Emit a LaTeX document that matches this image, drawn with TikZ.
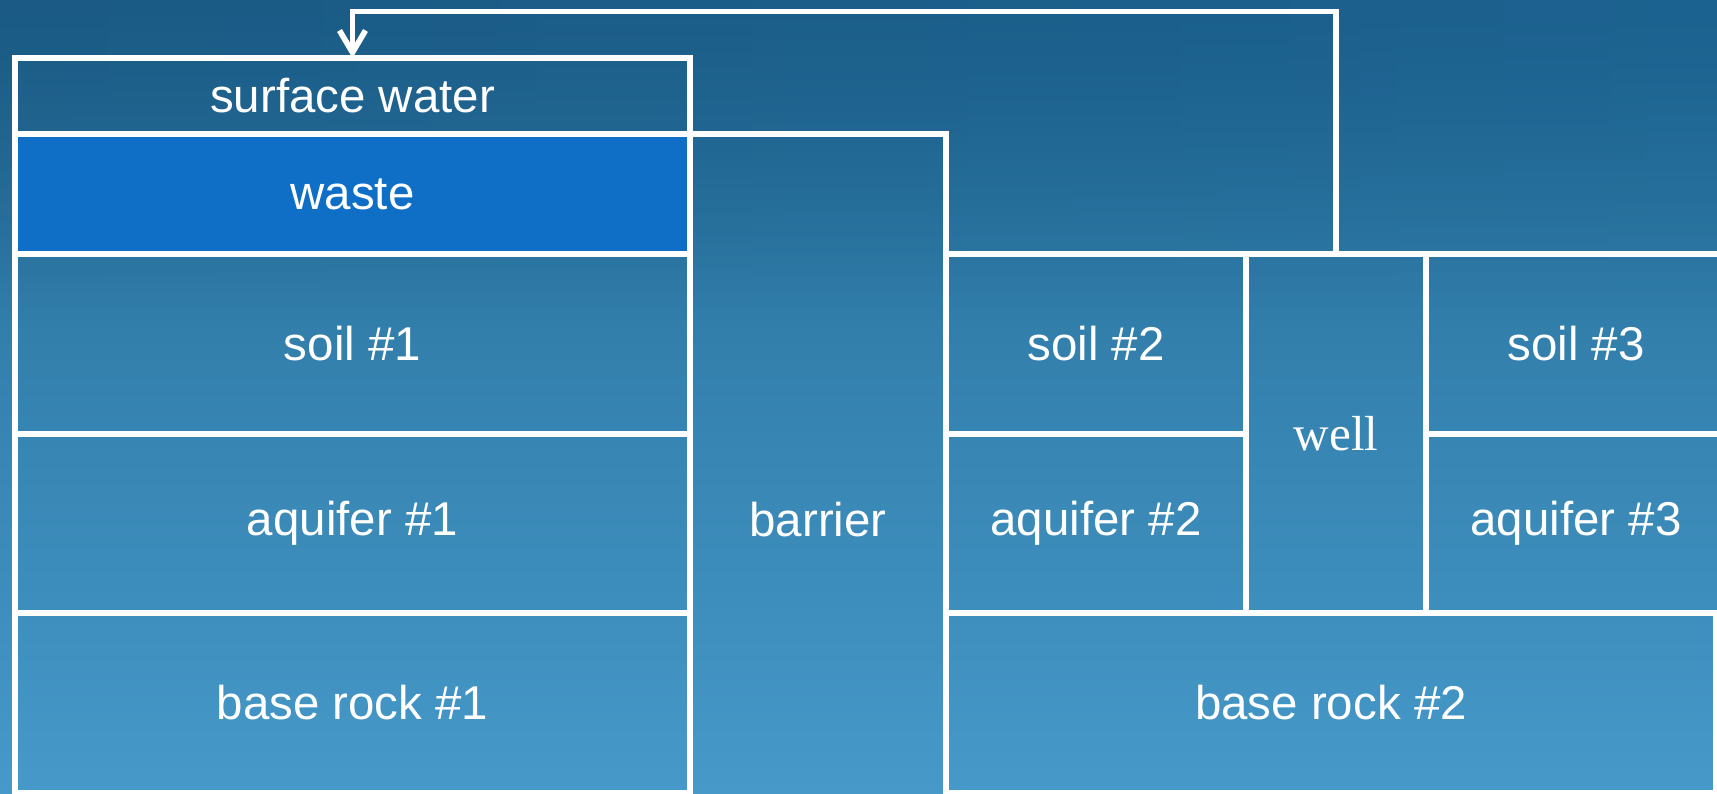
\documentclass[tikz,border=0pt]{standalone}
\usepackage{fontspec}
\setmainfont{Liberation Sans}
\newfontfamily\wellfont{Liberation Serif}
\usepackage{tikz}
\usetikzlibrary{positioning,arrows.meta,fadings}

\definecolor{bgtop}{HTML}{246C97}
\definecolor{bgbot}{HTML}{4699C9}
\definecolor{bgleft}{HTML}{1A5A84}
\definecolor{bgright}{HTML}{1C6290}
\definecolor{wastefill}{HTML}{0F6FC6}
\tikzfading[name=fade down, top color=transparent!0, bottom color=transparent!100]

\begin{document}
\begin{tikzpicture}[node distance=0cm, box/.style={draw=white, line width=1.6pt, outer sep=0pt, inner sep=0pt, text=white, font=\fontsize{13.5}{16}\selectfont}, arrow/.style={-{Straight Barb[length=2.2mm,width=2.6mm]}, draw=white, line width=1.6pt}]
\shade[top color=bgtop, bottom color=bgbot] (0,0) rectangle (17.17,-7.93);
\shade[left color=bgleft, middle color=bgtop, right color=bgright, path fading=fade down] (0,0) rectangle (17.17,-3.2);
\useasboundingbox (0,0) rectangle (17.17,-7.93);
\node[box, anchor=north west, minimum width=6.75cm, minimum height=0.76cm] (surf) at (0.15,-0.58) {surface water};
\node[box, fill=wastefill, below=of surf, minimum width=6.75cm, minimum height=1.2cm] (waste) {waste};
\node[box, below=of waste, minimum width=6.75cm, minimum height=1.8cm] (soilA) {soil \#1};
\node[box, below=of soilA, minimum width=6.75cm, minimum height=1.79cm] (aquiA) {aquifer \#1};
\node[box, below=of aquiA, minimum width=6.75cm, minimum height=1.8cm] (rockA) {base rock \#1};
\node[box, right=of waste.north east, anchor=north west, minimum width=2.56cm, minimum height=7.72cm] (barrier) {barrier};
\node[box, anchor=north west, minimum width=3cm, minimum height=1.8cm] (soilB) at (barrier.east |- soilA.north) {soil \#2};
\node[box, below=of soilB, minimum width=3cm, minimum height=1.79cm] (aquiB) {aquifer \#2};
\node[box, right=of soilB.north east, anchor=north west, minimum width=1.8cm, minimum height=3.59cm, font=\wellfont\fontsize{14}{16}\selectfont] (well) {well};
\node[box, right=of well.north east, anchor=north west, minimum width=3cm, minimum height=1.8cm] (soilC) {soil \#3};
\node[box, below=of soilC, minimum width=3cm, minimum height=1.79cm] (aquiC) {aquifer \#3};
\node[box, below=of aquiB.south west, anchor=north west, minimum width=7.7cm, minimum height=1.8cm] (rockB) {base rock \#2};
\coordinate (top) at (0,-0.115);
\draw[arrow] (well.north) |- (surf.north |- top) -- (surf.north);
\end{tikzpicture}
\end{document}
